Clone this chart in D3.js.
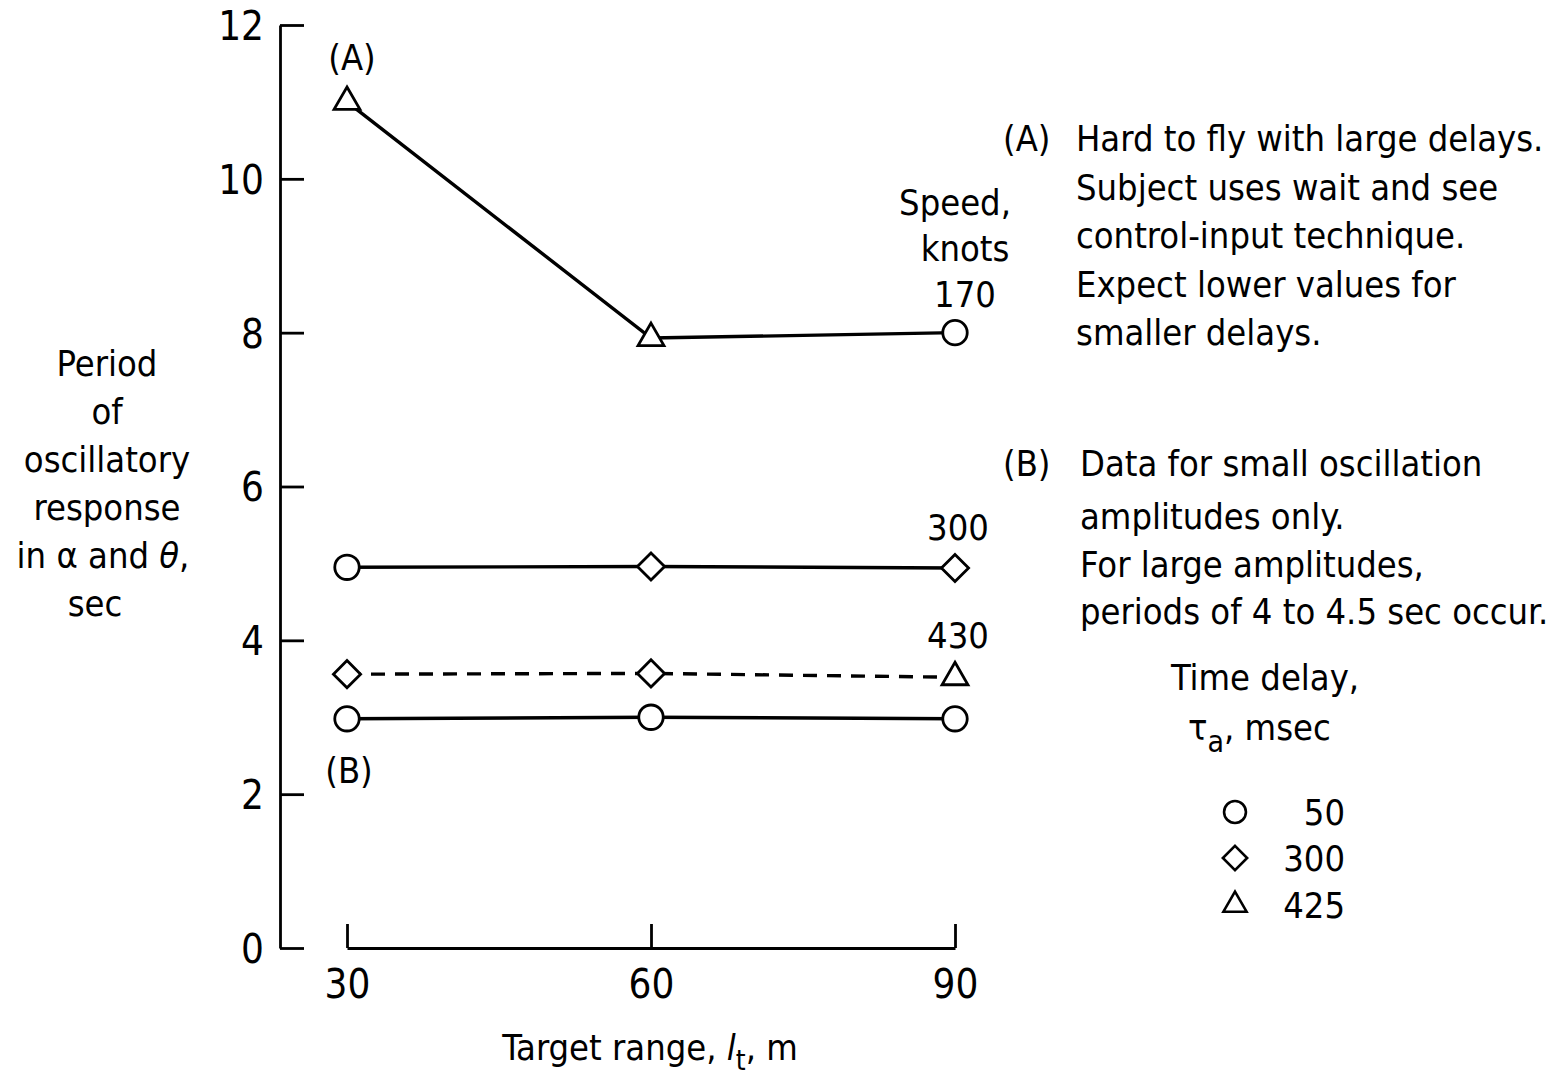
<!DOCTYPE html>
<html>
<head>
<meta charset="utf-8">
<script src="https://cdn.jsdelivr.net/npm/d3@7"></script>
<style>
  html, body { margin: 0; padding: 0; background: #fff; }
  svg { display: block; }
  text { font-family: "Liberation Sans Narrow", "DejaVu Sans Condensed", "Arial Narrow", sans-serif; fill: #000; }
</style>
</head>
<body>
<svg id="chart" width="1567" height="1087"></svg>
<script>
// Target range, m
const ranges = [30, 60, 90];
// Speed series (knots) with period at each target range, sec
const speeds = [170, 300, 430];
const period170 = [11.0, 7.93, 8.0];
const period300 = [4.95, 4.96, 4.94];
const period430 = [3.56, 3.57, 3.52];
const period430b = [2.98, 3.0, 2.98];
// Time delay (msec) of each point, which decides its symbol
const delay170 = [425, 425, 50];
const delay300 = [50, 300, 300];
const delay430 = [300, 300, 425];
const delay430b = [50, 50, 50];
const yTicks = [0, 2, 4, 6, 8, 10, 12];
const legendDelays = [50, 300, 425];

const svg = d3.select("#chart");
const x = d3.scaleLinear().domain([30, 90]).range([347, 955]);
const y = d3.scaleLinear().domain([0, 12]).range([948, 25]);

// Axes: ticks point inward
const yAxis = d3.axisLeft(y).tickValues(yTicks).tickSizeInner(-24).tickSizeOuter(0).tickPadding(16);
const xAxis = d3.axisBottom(x).tickValues(ranges).tickSizeInner(-24).tickSizeOuter(0).tickPadding(20);

const gy = svg.append("g").attr("transform", "translate(280,0)").call(yAxis);
const gx = svg.append("g").attr("transform", "translate(0,948)").call(xAxis);
[gy, gx].forEach(g => {
  g.selectAll("path, line").attr("stroke", "#000").attr("stroke-width", 2.8);
  g.selectAll("text").style("font-size", "40px").attr("fill", "#000");
});
gy.selectAll("text").attr("dy", "0.36em");
gx.selectAll("text").attr("dy", "0.75em");

// Series lines
const series = [
  { vals: period170, delays: delay170, dash: null },
  { vals: period300, delays: delay300, dash: null },
  { vals: period430, delays: delay430, dash: "14,10" },
  { vals: period430b, delays: delay430b, dash: null }
];
const line = d3.line().x(d => x(d.r)).y(d => y(d.p));

const symFor = { 50: d3.symbolCircle, 300: d3.symbolDiamond2, 425: d3.symbolTriangle2 };
const sizeFor = { 50: 470, 300: 470, 425: 480 };

series.forEach(s => {
  const pts = ranges.map((r, i) => ({ r, p: s.vals[i], d: s.delays[i] }));
  svg.append("path").datum(pts).attr("d", line)
    .attr("fill", "none").attr("stroke", "#000").attr("stroke-width", 3.4)
    .attr("stroke-dasharray", s.dash);
  svg.selectAll(null).data(pts).enter().append("path")
    .attr("transform", d => `translate(${x(d.r)},${y(d.p)})`)
    .attr("d", d => d3.symbol(symFor[d.d], sizeFor[d.d])())
    .attr("fill", "#fff").attr("stroke", "#000").attr("stroke-width", 2.8);
});

function addText(t, px, py, size, anchor) {
  return svg.append("text").attr("x", px).attr("y", py)
    .style("font-size", size + "px").attr("text-anchor", anchor || "start").text(t);
}

// Point notes
addText("(A)", 352, 70, 36, "middle");
addText("(B)", 349, 783, 36, "middle");
addText("Speed,", 955, 215, 36, "middle");
addText("knots", 965, 261, 36, "middle");
addText(String(speeds[0]), 965, 307, 36, "middle");
addText(String(speeds[1]), 958, 540, 36, "middle");
addText(String(speeds[2]), 958, 648, 36, "middle");

// Y axis title
const yTitle = ["Period", "of", "oscillatory", "response"];
yTitle.forEach((t, i) => addText(t, 107, 376 + i * 48, 36, "middle"));
const lastT = svg.append("text").attr("x", 103).attr("y", 568).attr("text-anchor", "middle").style("font-size", "36px");
lastT.append("tspan").text("in \u03b1 and  ");
lastT.append("tspan").style("font-style", "italic").text("\u03b8");
lastT.append("tspan").text(",");
addText("sec", 95, 616, 36, "middle");

// X axis title
const xt = svg.append("text").attr("x", 650).attr("y", 1060).attr("text-anchor", "middle").style("font-size", "36px");
xt.append("tspan").text("Target range, ");
xt.append("tspan").style("font-style", "italic").text("l");
xt.append("tspan").attr("dy", 10).style("font-size", "28px").text("t");
xt.append("tspan").attr("dy", -10).text(",  m");

// Notes on the right
const notesA = ["Hard to fly with large delays.", "Subject uses wait and see", "control-input technique.", "Expect lower values for", "smaller delays."];
const notesB = ["Data for small oscillation", "amplitudes only.", "For large amplitudes,", "periods of 4 to 4.5 sec occur."];
addText("(A)", 1003, 151, 36);
notesA.forEach((t, i) => addText(t, 1076, 151 + i * 48.5, 36));
addText("(B)", 1003, 476, 36);
notesB.forEach((t, i) => addText(t, 1080, 476 + [0, 53, 101, 148][i], 36));

// Legend
addText("Time delay,", 1265, 690, 36, "middle");
const lt = svg.append("text").attr("x", 1188).attr("y", 740).style("font-size", "36px");
lt.append("tspan").text("\u03c4");
lt.append("tspan").attr("dy", 12).style("font-size", "30px").text("a");
lt.append("tspan").attr("dy", -12).text(",  msec");
const legY = d3.scaleOrdinal().domain(legendDelays).range([812, 858, 905]);
legendDelays.forEach(dl => {
  svg.append("path").attr("transform", `translate(1235,${legY(dl)})`)
    .attr("d", d3.symbol(symFor[dl], sizeFor[dl] * 0.8)())
    .attr("fill", "#fff").attr("stroke", "#000").attr("stroke-width", 2.6);
  addText(String(dl), 1345, legY(dl) + 13, 36, "end");
});
</script>
</body>
</html>
